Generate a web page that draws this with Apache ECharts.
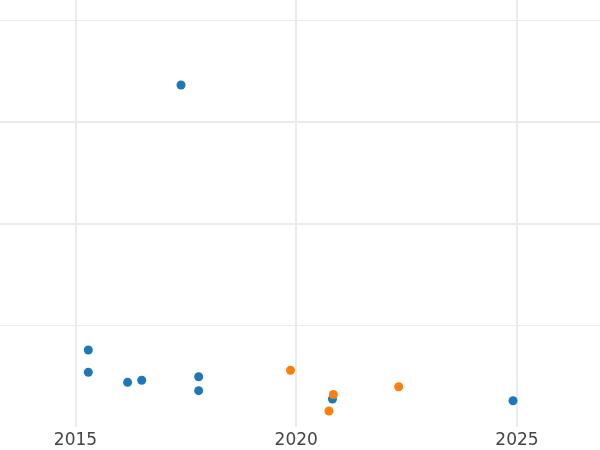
<!DOCTYPE html>
<html>
<head>
<meta charset="utf-8">
<script src="https://cdn.jsdelivr.net/npm/echarts@6/dist/echarts.min.js"></script>
<style>
  html, body { margin: 0; padding: 0; background: #ffffff; }
  #chart { width: 600px; height: 450px; }
</style>
</head>
<body>
<div id="chart"></div>
<script>
// Blue series (year, value)
const blueX = [2015.29, 2015.29, 2016.18, 2016.50, 2017.39, 2017.79, 2017.79, 2020.82, 2024.91];
const blueY = [0.757, 0.538, 0.439, 0.459, 3.361, 0.494, 0.357, 0.275, 0.258];
// Orange series
const orangeX = [2019.87, 2020.84, 2020.74, 2022.32];
const orangeY = [0.558, 0.319, 0.157, 0.396];
// Tick labels
const xTicks = [2015, 2020, 2025];

const grid = '#ebebeb';
const T = 'rgba(0,0,0,0)';

const chart = echarts.init(document.getElementById('chart'), null, { renderer: 'canvas' });
chart.setOption({
  animation: false,
  backgroundColor: '#ffffff',
  grid: { left: 0, right: 0, top: 0, bottom: 23, containLabel: false, outerBoundsMode: 'none' },
  xAxis: {
    type: 'value',
    min: 2013.29,
    max: 2026.88,
    axisLine: { show: false },
    axisTick: { show: false, customValues: xTicks },
    axisLabel: {
      customValues: xTicks,
      color: '#444444',
      fontSize: 17,
      fontFamily: 'DejaVu Sans',
      margin: 5,
      formatter: v => String(v)
    },
    splitLine: { show: true, lineStyle: { color: grid, width: 2 } }
  },
  yAxis: [
    {
      type: 'value',
      min: 0,
      max: 4.197,
      interval: 1,
      axisLine: { show: false },
      axisTick: { show: false },
      axisLabel: { show: false },
      splitLine: { show: true, lineStyle: { color: [T, T, grid, grid, T, T], width: 2 } }
    },
    {
      type: 'value',
      min: 0,
      max: 4.197,
      interval: 1,
      position: 'right',
      axisLine: { show: false },
      axisTick: { show: false },
      axisLabel: { show: false },
      splitLine: { show: true, lineStyle: { color: [T, grid, T, T, grid, T], width: 1 } }
    }
  ],
  series: [
    {
      type: 'scatter',
      yAxisIndex: 0,
      symbolSize: 9,
      itemStyle: { color: '#1f77b4', opacity: 1 },
      data: blueX.map((x, i) => [x, blueY[i]])
    },
    {
      type: 'scatter',
      yAxisIndex: 0,
      symbolSize: 9,
      itemStyle: { color: '#ff7f0e', opacity: 1 },
      data: orangeX.map((x, i) => [x, orangeY[i]])
    }
  ]
});
</script>
</body>
</html>
